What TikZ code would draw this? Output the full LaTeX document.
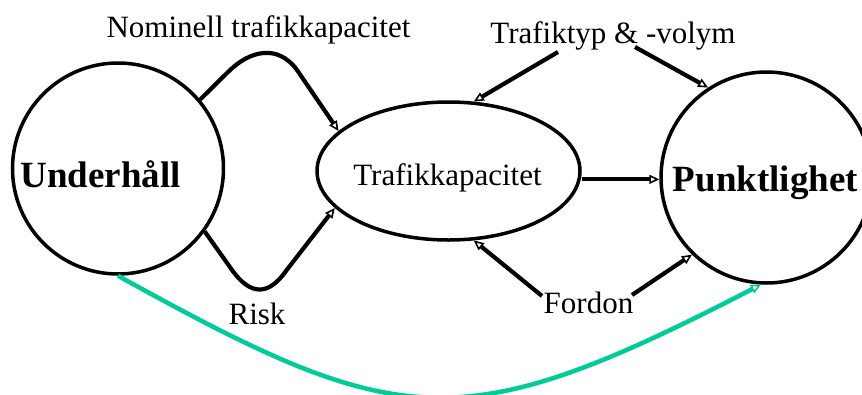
\documentclass[tikz,border=0pt]{standalone}
\usepackage{fontspec}
\setmainfont{Liberation Serif}
\usetikzlibrary{shapes.geometric,arrows.meta}
\definecolor{linkgreen}{RGB}{0,204,153}
\begin{document}
\begin{tikzpicture}[x=1pt,y=-1pt,
  ring/.style={circle, draw, line width=3.5pt, minimum size=211pt, inner sep=0pt},
  oval/.style={ellipse, draw, line width=3.5pt, minimum width=263pt, minimum height=138pt, inner sep=0pt},
  lbl/.style={font=\fontsize{31}{36}\selectfont, inner sep=0pt, anchor=base},
  big/.style={font=\fontsize{37}{44}\selectfont\bfseries, inner sep=0pt, anchor=base},
  tip/.style={-{Triangle[open,length=10pt,width=9pt,line width=1.6pt]}},
  arr/.style={line width=4.2pt, tip},
  link/.style={line width=4.5pt, draw=linkgreen, tip}]
\useasboundingbox (0,0) rectangle (862,394);

% main elements
\node[ring] (U) at (118,168.5) {};
\node[ring] (P) at (766.5,177.5) {};
\node[oval] (T) at (448.5,171) {};

% texts
\node[big] (Ut) at (100.5,187) {Underhåll};
\node[big] (Pt) at (765.5,191) {Punktlighet};
\node[lbl] (Tt) at (447.5,185) {Trafikkapacitet};
\node[lbl] (N) at (258.5,37) {Nominell trafikkapacitet};
\node[lbl] (V) at (613,43) {Trafiktyp \& -volym};
\node[lbl] (R) at (257,324) {Risk};
\node[lbl] (F) at (588.5,313) {Fordon};

% start points below the factor labels
\coordinate (v1) at (558,52);
\coordinate (v2) at (635,47);
\coordinate (f1) at (542,296);
\coordinate (f2) at (632,295);

% maintenance -> capacity, nominal and risk paths
\draw[arr] (U.40) -- (228,72) .. controls (250,50) and (278,44) .. (297,70) -- (T.160);
\draw[arr] (U.-36) -- (232,270) .. controls (250,295) and (268,297) .. (286.7,270) -- (T.198);

% traffic type and vehicles
\draw[arr] (v1) -- (T.70);
\draw[arr] (v2) -- (P.123);
\draw[arr] (f1) -- (T.-70);
\draw[arr] (f2) -- (P.-134);

% capacity -> punctuality
\draw[arr] (P.181 -| T.east) -- (P.181);

% direct link maintenance -> punctuality
\draw[link] (U.-90) .. controls (400,432) and (460,440) .. (P.-93);
\end{tikzpicture}
\end{document}
